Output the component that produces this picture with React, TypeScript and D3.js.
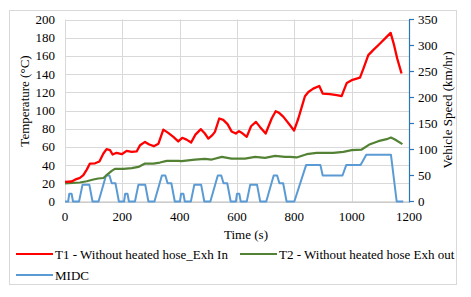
import React from "react";
import * as d3 from "d3";

// T1 - Without heated hose_Exh In (time s, temperature °C)
const t1Time = [0, 23, 35, 52, 64, 76, 87, 105, 120, 134, 145, 157, 166, 180, 198, 215, 233, 250, 262, 279, 294, 310, 326, 343, 360, 378, 395, 409, 424, 440, 455, 474, 488, 500, 514, 523, 538, 552, 567, 581, 596, 607, 616, 634, 649, 666, 680, 700, 721, 735, 747, 762, 785, 799, 814, 826, 837, 849, 866, 887, 899, 924, 948, 965, 973, 983, 1000, 1029, 1041, 1058, 1075, 1099, 1122, 1136, 1148, 1159, 1174];
const t1Temp = [21.5, 22, 24, 26, 29, 35, 41.7, 42, 44, 52.7, 57.5, 56.5, 51.6, 53.5, 52, 55.6, 54.6, 55, 61.9, 65.5, 62.6, 60.8, 63.5, 79, 75.4, 71, 66, 70, 68, 64.8, 73.5, 79.5, 74.7, 69.2, 72.9, 76.5, 91.2, 89.7, 85, 77, 74.7, 77.3, 75.6, 71, 82.7, 87.5, 82, 74.7, 91.2, 99.2, 97.4, 93, 83.8, 78, 91.2, 104, 115.7, 120.4, 124, 127, 118.6, 117.9, 116.8, 115.7, 122.3, 130.3, 133.3, 136.2, 146, 160.8, 166.3, 173.6, 180.9, 185.3, 171.8, 157, 140.7];

// T2 - Without heated hose Exh out
const t2Time = [0, 52, 76, 99, 116, 134, 145, 163, 174, 204, 233, 256, 279, 308, 331, 355, 395, 407, 453, 488, 512, 547, 581, 628, 663, 698, 733, 767, 785, 808, 843, 878, 936, 971, 1000, 1035, 1064, 1093, 1122, 1137, 1151, 1177];
const t2Temp = [20, 20.9, 22.3, 24.2, 25.3, 25.8, 28.9, 33.6, 35.8, 35.8, 36.6, 38, 41.7, 41.7, 42.8, 44.6, 44.6, 44.3, 46.1, 46.8, 46.1, 49, 47.2, 47.2, 49, 48, 50.1, 49, 49, 48.4, 52, 53.4, 53.4, 54.5, 56.4, 57.1, 63, 66.3, 68.5, 70.3, 68.1, 63];

// MIDC vehicle speed (time s, km/hr)
const eceTime = [0, 11, 15, 23, 28, 49, 61, 85, 96, 117, 143, 155, 163, 176, 188, 195];
const eceSpeed = [0, 0, 15, 15, 0, 0, 32, 32, 0, 0, 50, 50, 35, 35, 0, 0];
const eudcTime = [800, 841, 891, 899, 968, 981, 1031, 1051, 1137, 1157, 1180];
const eudcSpeed = [0, 70, 70, 50, 50, 70, 70, 90, 90, 0, 0];
const eceOffsets = [0, 195, 390, 585];

const xTicks = [0, 200, 400, 600, 800, 1000, 1200];
const yLeftTicks = [0, 20, 40, 60, 80, 100, 120, 140, 160, 180, 200];
const yRightTicks = [0, 50, 100, 150, 200, 250, 300, 350];

const seriesNames = ["T1 - Without heated hose_Exh In", "T2 - Without heated hose Exh out", "MIDC"];
const colors = ["#ff0000", "#548235", "#5b9bd5"];

export default function App() {
  const W = 471, H = 297;
  const left = 65, right = 409, top = 19.5, bottom = 201.5;
  const x = d3.scaleLinear().domain([0, 1200]).range([left, right]);
  const yL = d3.scaleLinear().domain([0, 200]).range([bottom, top]);
  const yR = d3.scaleLinear().domain([0, 350]).range([bottom, top]);

  const t1 = t1Time.map((t, i) => [t, t1Temp[i]] as [number, number]);
  const t2 = t2Time.map((t, i) => [t, t2Temp[i]] as [number, number]);
  const midc: [number, number][] = [];
  eceOffsets.forEach((o) => eceTime.forEach((t, i) => midc.push([t + o, eceSpeed[i]])));
  eudcTime.forEach((t, i) => midc.push([t, eudcSpeed[i]]));

  const lineL = d3.line<[number, number]>().x((d) => x(d[0])).y((d) => yL(d[1]));
  const lineR = d3.line<[number, number]>().x((d) => x(d[0])).y((d) => yR(d[1]));

  const ff = "Times New Roman, Liberation Serif, Tinos, DejaVu Serif, Noto Serif, serif";
  const fs = 13;
  const axisBlue = "#2e75b6";
  const T = (p: any) => <text fontFamily={ff} fontSize={fs} fill="#000" {...p} />;

  return (
    <svg width={W} height={H} style={{ display: "block", position: "absolute", left: 0, top: 0 }}>
      <rect x={0} y={0} width={W} height={H} fill="#fff" />
      <rect x={9.5} y={10.5} width={447} height={274} fill="none" stroke="#d9d9d9" />
      {yLeftTicks.map((v) => (
        <line key={"gy" + v} x1={left} x2={right} y1={Math.round(yL(v)) + 0.5} y2={Math.round(yL(v)) + 0.5} stroke="#d9d9d9" />
      ))}
      {xTicks.map((v) => (
        <line key={"gx" + v} x1={Math.round(x(v)) + 0.5} x2={Math.round(x(v)) + 0.5} y1={top} y2={bottom} stroke="#d9d9d9" />
      ))}
      <line x1={left} x2={right} y1={bottom + 0.5} y2={bottom + 0.5} stroke="#bfbfbf" />
      <line x1={right + 0.5} x2={right + 0.5} y1={top} y2={bottom + 1} stroke={axisBlue} strokeWidth={1.2} />
      {yRightTicks.map((v) => (
        <line key={"rt" + v} x1={right} x2={right + 5} y1={yR(v)} y2={yR(v)} stroke={axisBlue} strokeWidth={1.2} />
      ))}
      <path d={lineR(midc) || ""} fill="none" stroke={colors[2]} strokeWidth={2} strokeLinejoin="round" />
      <path d={lineL(t2) || ""} fill="none" stroke={colors[1]} strokeWidth={2.2} strokeLinejoin="round" />
      <path d={lineL(t1) || ""} fill="none" stroke={colors[0]} strokeWidth={2.3} strokeLinejoin="round" />
      {yLeftTicks.map((v) => (
        <T key={"yl" + v} x={55} y={yL(v)} dy="0.35em" textAnchor="end">{v}</T>
      ))}
      {yRightTicks.map((v) => (
        <T key={"yr" + v} x={418} y={yR(v)} dy="0.35em" textAnchor="start">{v}</T>
      ))}
      {xTicks.map((v) => (
        <T key={"xt" + v} x={x(v)} y={221} textAnchor="middle">{v}</T>
      ))}
      <T x={246} y={238.5} textAnchor="middle">Time (s)</T>
      <T transform={`translate(29,101) rotate(-90)`} textAnchor="middle">Temperature (°C)</T>
      <T transform={`translate(452,110) rotate(-90)`} textAnchor="middle">Vehicle Speed (km/hr)</T>
      {[{ lx: 16, ly: 254 }, { lx: 240, ly: 254 }, { lx: 16, ly: 275 }].map((p, i) => (
        <g key={"lg" + i}>
          <line x1={p.lx} x2={p.lx + 37} y1={p.ly} y2={p.ly} stroke={colors[i]} strokeWidth={2.2} />
          <T x={p.lx + 39} y={p.ly} dy="0.35em">{seriesNames[i]}</T>
        </g>
      ))}
    </svg>
  );
}
